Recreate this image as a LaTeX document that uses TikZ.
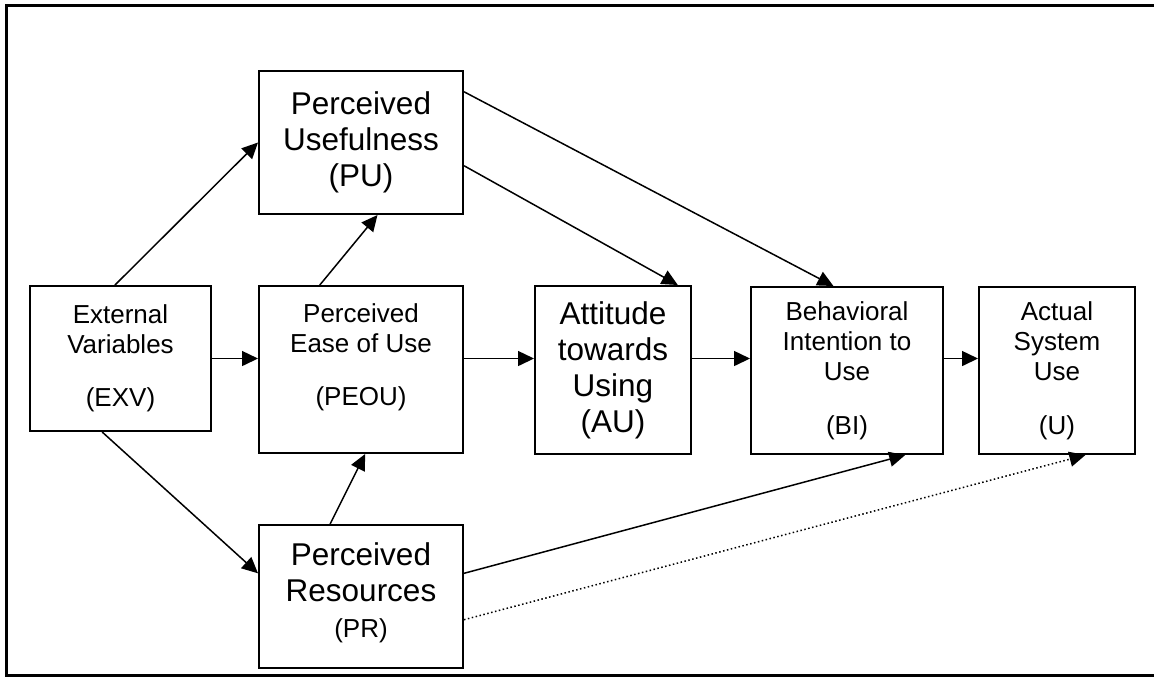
\documentclass[tikz,border=0pt]{standalone}
\usepackage{fontspec}
\setmainfont{Liberation Sans}
\usetikzlibrary{arrows.meta,calc}
\newcommand\smallfnt{\fontsize{13pt}{15pt}\selectfont}
\newcommand\bigfnt{\fontsize{15.75pt}{18pt}\selectfont}
\begin{document}
\begin{tikzpicture}[x=0.5pt,y=-0.5pt,
  box/.style={draw,line width=1pt,align=center,inner sep=0pt},
  smallbox/.style={box,font=\smallfnt},
  bigbox/.style={box,font=\bigfnt},
  arr/.style={line width=0.75pt,-{Triangle[length=8pt,width=7.5pt]}},
  dotarr/.style={arr,dash pattern=on 0.75pt off 1.25pt},
  frame/.style={line width=1.75pt}]
\useasboundingbox (0,0) rectangle (1154,677);
\clip (0,0) rectangle (1154,677);
\draw[frame] (6.5,5.5) rectangle (1175,675.5);

\node[bigbox,minimum width=102pt,minimum height=71.5pt] (pu) at (361,142.5)
  {Perceived\\Usefulness\\(PU)};
\node[smallbox,minimum width=90.5pt,minimum height=72.5pt] (exv) at (120.5,358.5)
  {External\\Variables\\[11.5pt](EXV)};
\node[smallbox,minimum width=102pt,minimum height=83.5pt] (peou) at (361,369.5)
  {Perceived\\Ease of Use\\[11.5pt](PEOU)\\\mbox{}};
\node[bigbox,minimum width=78pt,minimum height=84pt] (au) at (613,370)
  {Attitude\\towards\\Using\\(AU)};
\node[smallbox,minimum width=96pt,minimum height=83.5pt] (bi) at (847,370.5)
  {Behavioral\\Intention to\\Use\\[12pt](BI)};
\node[smallbox,minimum width=78pt,minimum height=83.5pt] (u) at (1057,370.5)
  {Actual\\System\\Use\\[12pt](U)};
\node[bigbox,minimum width=102pt,minimum height=71.5pt] (pr) at (361,596.5)
  {Perceived\\Resources\\{\smallfnt (PR)}\\[-12pt]\mbox{}};

% external variables
\draw[arr] ($(exv.north west)!0.47!(exv.north east)$) -- (pu.west);
\draw[arr] (exv.east) -- (exv.east -| peou.west);
\draw[arr] ($(exv.south west)!0.40!(exv.south east)$) -- ($(pr.north west)!0.34!(pr.south west)$);
% PEOU / PR
\draw[arr] ($(peou.north west)!0.30!(peou.north east)$) -- ($(pu.south west)!0.58!(pu.south east)$);
\draw[arr] ($(pr.north west)!0.35!(pr.north east)$) -- ($(peou.south west)!0.52!(peou.south east)$);
% main chain
\draw[arr] (exv.east -| peou.east) -- (exv.east -| au.west);
\draw[arr] (exv.east -| au.east) -- (exv.east -| bi.west);
\draw[arr] (exv.east -| bi.east) -- (exv.east -| u.west);
% from PU
\draw[arr] ($(pu.north east)!0.66!(pu.south east)$) -- ($(au.north west)!0.91!(au.north east)$);
\draw[arr] ($(pu.north east)!0.15!(pu.south east)$) -- ($(bi.north west)!0.43!(bi.north east)$);
% from PR
\draw[arr] ($(pr.north east)!0.34!(pr.south east)$) -- ($(bi.south west)!0.80!(bi.south east)$);
\draw[dotarr] ($(pr.north east)!0.66!(pr.south east)$) -- ($(u.south west)!0.68!(u.south east)$);
\end{tikzpicture}
\end{document}
